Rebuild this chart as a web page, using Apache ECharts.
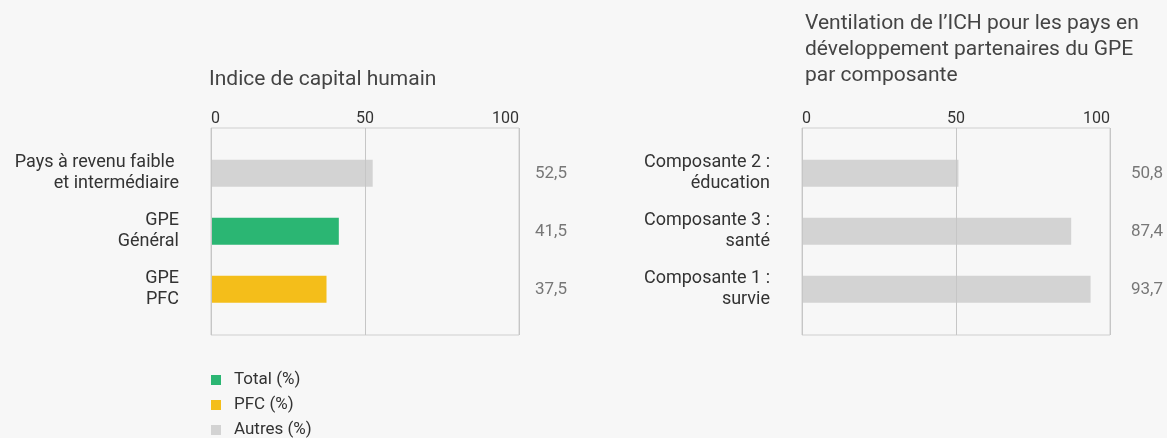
<!DOCTYPE html>
<html>
<head>
<meta charset="utf-8">
<script src="https://cdn.jsdelivr.net/npm/echarts@6/dist/echarts.min.js"></script>
<style>
  html, body { margin: 0; padding: 0; background: #f7f7f7; }
  #chart { width: 1167px; height: 438px; }
</style>
</head>
<body>
<div id="chart"></div>
<script>
// ---- Data ----
const leftTitle = 'Indice de capital humain';
const rightTitle = 'Ventilation de l\u2019ICH pour les pays en\ndéveloppement partenaires du GPE\npar composante';
const leftCategories = ['Pays à revenu faible \net intermédiaire', 'GPE\nGénéral', 'GPE\nPFC'];
const leftValues = [52.5, 41.5, 37.5];
const leftGroups = ['Autres (%)', 'Total (%)', 'PFC (%)'];
const rightCategories = ['Composante 2 :\néducation', 'Composante 3 :\nsanté', 'Composante 1 :\nsurvie'];
const rightValues = [50.8, 87.4, 93.7];
const legendNames = ['Total (%)', 'PFC (%)', 'Autres (%)'];
const axisMin = 0, axisMax = 100, axisInterval = 50;

// ---- Styles ----
const colors = { 'Total (%)': '#2bb673', 'PFC (%)': '#f4be1a', 'Autres (%)': '#d3d3d3' };
const FONT = 'Roboto';
const fmt = v => String(v).replace('.', ',');

const chart = echarts.init(document.getElementById('chart'), null, { renderer: 'canvas' });

const panels = [
  { left: 211, width: 308 },
  { left: 802, width: 308 }
];
const boxTop = 128, boxHeight = 207;
const barTop = 144.3, barHeight = 174;

const grids = [], xAxes = [], yAxes = [], series = [];
panels.forEach((p, i) => {
  grids.push({ left: p.left, top: boxTop, width: p.width, height: boxHeight, show: true,
    borderColor: '#cfcfcf', borderWidth: 1, backgroundColor: 'transparent', containLabel: false });
  grids.push({ left: p.left, top: barTop, width: p.width, height: barHeight, show: false, containLabel: false });
});

panels.forEach((p, i) => {
  const boxG = i * 2, barG = i * 2 + 1;
  xAxes.push({
    gridIndex: boxG, type: 'value', position: 'top', min: axisMin, max: axisMax, interval: axisInterval,
    z: 5,
    axisLine: { show: false }, axisTick: { show: false },
    splitLine: { show: true, lineStyle: { color: '#c6c6c6', width: 1 } },
    axisLabel: { show: true, margin: 1, fontSize: 16, lineHeight: 16, color: '#333', fontFamily: FONT,
      alignMinLabel: 'left', alignMaxLabel: 'right' }
  });
  xAxes.push({ gridIndex: barG, type: 'value', min: axisMin, max: axisMax, show: false });
});

const catsList = [leftCategories, rightCategories];
const valsList = [leftValues, rightValues];
panels.forEach((p, i) => {
  const boxG = i * 2, barG = i * 2 + 1;
  yAxes.push({ gridIndex: boxG, type: 'value', show: false, min: 0, max: 1 });
  yAxes.push({
    gridIndex: barG, type: 'category', inverse: true, data: catsList[i], position: 'left',
    axisLine: { show: false }, axisTick: { show: false }, splitLine: { show: false },
    axisLabel: { margin: 32, fontSize: 18, lineHeight: 21, color: '#333', fontFamily: FONT, align: 'right' }
  });
  const vals = valsList[i];
  yAxes.push({
    gridIndex: barG, type: 'category', inverse: true, data: catsList[i], position: 'right',
    axisLine: { show: false }, axisTick: { show: false }, splitLine: { show: false },
    axisLabel: { margin: i === 0 ? 16 : 21, fontSize: 17, color: '#777', fontFamily: FONT, align: 'left',
      formatter: (v, idx) => fmt(vals[idx]) }
  });
});

['Total (%)', 'PFC (%)', 'Autres (%)'].forEach(name => {
  series.push({
    name, type: 'bar', xAxisIndex: 1, yAxisIndex: 1, stack: 'left', barWidth: 27,
    itemStyle: { color: colors[name] },
    data: leftValues.map((v, k) => leftGroups[k] === name ? v : '-')
  });
});
series.push({
  name: 'Autres (%)', type: 'bar', xAxisIndex: 3, yAxisIndex: 4, barWidth: 27,
  itemStyle: { color: colors['Autres (%)'] },
  data: rightValues.slice()
});

chart.setOption({
  backgroundColor: '#f7f7f7',
  animation: false,
  textStyle: { fontFamily: FONT },
  title: [
    { text: leftTitle, left: 209, top: 67, textStyle: { fontSize: 21, lineHeight: 26, fontWeight: 'normal', color: '#444', fontFamily: FONT }, padding: 0 },
    { text: rightTitle, left: 805, top: 11, textStyle: { fontSize: 21, lineHeight: 26, fontWeight: 'normal', color: '#444', fontFamily: FONT }, padding: 0 }
  ],
  legend: {
    orient: 'vertical', left: 211, top: 371.5, height: 120, padding: 0, itemGap: 8,
    itemWidth: 10, itemHeight: 10, icon: 'rect',
    data: legendNames,
    selectedMode: false,
    textStyle: { fontSize: 17, lineHeight: 17, color: '#333', fontFamily: FONT, padding: [0, 0, 0, 8] }
  },
  grid: grids,
  xAxis: xAxes,
  yAxis: yAxes,
  series
});
</script>
</body>
</html>
